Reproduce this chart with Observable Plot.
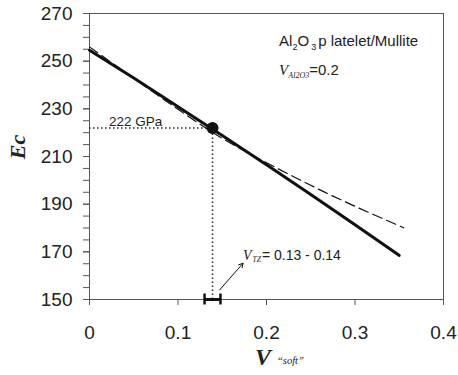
<!DOCTYPE html>
<html><head><meta charset="utf-8">
<script src="https://cdn.jsdelivr.net/npm/d3@7"></script>
<script src="https://cdn.jsdelivr.net/npm/@observablehq/plot@0.6"></script>
<style>body{margin:0;background:#fff} svg{display:block}</style>
</head><body><div id="chart"></div>
<script>
// Data
const vSoftSolid = [0, 0.05, 0.1, 0.15, 0.2, 0.25, 0.3, 0.35];
const ecSolid    = [254.6, 242.9, 230.9, 218.8, 206.5, 194.1, 181.4, 168.5];
const vSoftDash  = [0, 0.05, 0.1, 0.15, 0.2, 0.25, 0.3, 0.355];
const ecDash     = [256, 242.8, 229.8, 217.6, 207.4, 197.9, 189.1, 180.1];
const pointV = [0.139];
const pointEc = [222];
const rangeTZ = [0.13, 0.148];
const arrowFrom = [0.147, 154];
const arrowTo = [0.1735, 165.2];
const yTickLabels = [150, 170, 190, 210, 230, 250, 270];
const yTicksMinor = [150,155,160,165,170,175,180,185,190,195,200,205,210,215,220,225,230,235,240,245,250,255,260,265,270];
const xTickLabels = [0, 0.1, 0.2, 0.3, 0.4];

const solid = vSoftSolid.map((x, i) => ({x, y: ecSolid[i]}));
const dashed = vSoftDash.map((x, i) => ({x, y: ecDash[i]}));
const pt = pointV.map((x, i) => ({x, y: pointEc[i]}));

const axisColor = "#555";
const chart = Plot.plot({
  width: 458, height: 375,
  marginLeft: 89, marginRight: 15, marginTop: 13, marginBottom: 76,
  x: {domain: [0, 0.4]},
  y: {domain: [150, 270]},
  style: {fontFamily: "'Liberation Sans', Arial, sans-serif", color: "#222", background: "#fff", overflow: "visible"},
  marks: [
    Plot.frame({stroke: axisColor, strokeWidth: 1}),
    Plot.axisY(yTicksMinor, {tickSize: 6, tickFormat: () => "", stroke: axisColor, label: null}),
    Plot.axisY(yTickLabels, {tickSize: 6, tickPadding: 11, fontSize: 19, stroke: axisColor, label: null}),
    Plot.axisX(xTickLabels, {tickSize: 6, tickPadding: 20, fontSize: 19, stroke: axisColor, label: null, tickFormat: d => String(d)}),
    Plot.line(dashed, {x: "x", y: "y", stroke: "#111", strokeWidth: 1.2, strokeDasharray: "10,5", curve: "natural"}),
    Plot.line(solid, {x: "x", y: "y", stroke: "#111", strokeWidth: 3, curve: "natural"}),
    Plot.ruleY(pt, {y: "y", x1: 0, x2: "x", stroke: "#222", strokeWidth: 1.5, strokeDasharray: "1.5,2.5"}),
    Plot.ruleX(pt, {x: "x", y1: 150, y2: "y", stroke: "#222", strokeWidth: 1.5, strokeDasharray: "1.5,2.5"}),
    Plot.dot(pt, {x: "x", y: "y", r: 6, fill: "#111", stroke: "none"}),
    Plot.text(pt, {x: 0.022, y: "y", text: () => "222 GPa", textAnchor: "start", lineAnchor: "bottom", dy: -2, fontSize: 13.5, fill: "#222"}),
    Plot.ruleY([150], {x1: rangeTZ[0], x2: rangeTZ[1], stroke: "#111", strokeWidth: 3}),
    Plot.ruleX(rangeTZ, {y1: 147.7, y2: 152.3, stroke: "#111", strokeWidth: 2.5}),
    Plot.arrow([{x1: arrowFrom[0], y1: arrowFrom[1], x2: arrowTo[0], y2: arrowTo[1]}], {x1: "x1", y1: "y1", x2: "x2", y2: "y2", stroke: "#111", strokeWidth: 1, headLength: 7})
  ]
});
document.getElementById("chart").appendChild(chart);

const sx = chart.scale("x"), sy = chart.scale("y");
const svg = d3.select(chart);
const sans = "'Liberation Sans', Arial, sans-serif";
const serif = "'Liberation Serif', 'Times New Roman', serif";

// Al2O3 platelet/Mullite
let t = svg.append("text").attr("x", sx.apply(0.2148)).attr("y", sy.apply(256)).attr("text-anchor", "start")
  .attr("font-family", sans).attr("font-size", 15).attr("fill", "#222");
t.append("tspan").text("Al");
t.append("tspan").attr("font-size", 9).attr("dy", 4).text("2");
t.append("tspan").attr("dy", -4).text("O");
t.append("tspan").attr("font-size", 9).attr("dy", 4).attr("dx", 2).text("3");
t.append("tspan").attr("dy", -4).attr("dx", 2).text("p latelet/Mullite");

// V_Al2O3 = 0.2
t = svg.append("text").attr("x", sx.apply(0.2148)).attr("y", sy.apply(243.8)).attr("text-anchor", "start")
  .attr("font-size", 15).attr("fill", "#222");
t.append("tspan").attr("font-family", serif).attr("font-style", "italic").text("V");
t.append("tspan").attr("font-family", serif).attr("font-style", "italic").attr("font-size", 8).attr("dy", 3).text("Al2O3");
t.append("tspan").attr("font-family", sans).attr("dy", -3).text("=0.2");

// V_TZ = 0.13 - 0.14
t = svg.append("text").attr("x", sx.apply(0.174)).attr("y", sy.apply(166.4)).attr("text-anchor", "start")
  .attr("font-size", 14).attr("fill", "#222");
t.append("tspan").attr("font-family", serif).attr("font-style", "italic").text("V");
t.append("tspan").attr("font-family", serif).attr("font-style", "italic").attr("font-size", 7.5).attr("dy", 2).attr("dx", 1).text("TZ");
t.append("tspan").attr("font-family", sans).attr("dy", -2).attr("dx", 1).text("= 0.13 - 0.14");

// Axis titles
svg.append("text").attr("transform", "translate(25,147) rotate(-90)")
  .attr("text-anchor", "middle").attr("font-family", serif).attr("font-weight", "bold")
  .attr("font-style", "italic").attr("font-size", 22).attr("fill", "#222").text("Ec");
t = svg.append("text").attr("x", 255).attr("y", 365).attr("text-anchor", "start").attr("font-family", serif).attr("fill", "#222");
t.append("tspan").attr("font-weight", "bold").attr("font-style", "italic").attr("font-size", 24).text("V");
t.append("tspan").attr("font-style", "italic").attr("font-size", 10.5).attr("dx", 6).attr("dy", -1).text("\u201Csoft\u201D");
</script>
</body></html>
